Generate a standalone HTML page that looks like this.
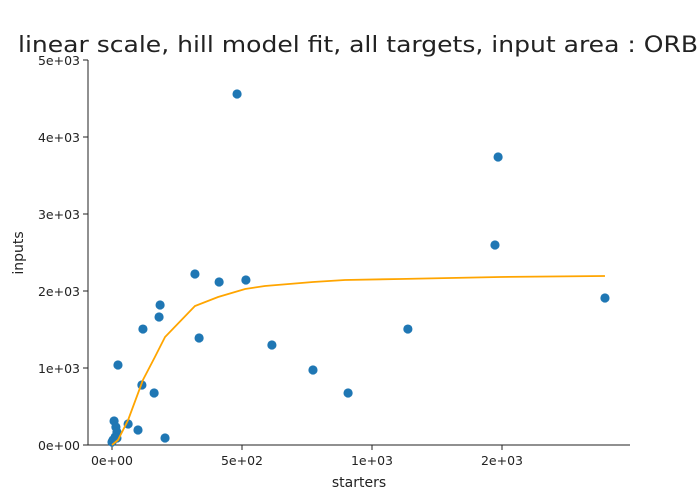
<!DOCTYPE html>
<html><head><meta charset="utf-8"><style>
body{margin:0;background:#fff;}
svg{display:block;font-family:"DejaVu Sans","Liberation Sans",sans-serif;}
</style></head><body>
<svg id="chart" width="700" height="500" viewBox="0 0 700 500">
<text x="18" y="52" font-size="22" textLength="680" lengthAdjust="spacingAndGlyphs" fill="#222">linear scale, hill model fit, all targets, input area : ORB</text>
<g id="axes"></g>
<g id="marks"></g>
<text x="359" y="487" font-size="14" text-anchor="middle" fill="#222">starters</text>
<text transform="translate(23,253) rotate(-90)" font-size="14" text-anchor="middle" fill="#222">inputs</text>
</svg>
<script>
const scatterX=[481,1485,1473,319,412,515,185,181,119,335,615,23,1138,1896,773,115,162,908,62,100,204,8,15,19,12,4,19,0];
const scatterY=[4558,3740,2597,2221,2117,2143,1818,1662,1506,1390,1299,1039,1506,1909,974,779,675,675,273,195,91,312,234,169,104,65,91,39];
const fitX=[0,23,62,119,165,204,319,408,512,588,773,896,1108,1492,1896];
const fitY=[0,65,325,844,1143,1403,1805,1922,2026,2065,2117,2143,2156,2182,2195];
const xTicks=[0,500,1000,1500];
const xTickLabels=["0e+00","5e+02","1e+03","2e+03"];
const yTicks=[0,1000,2000,3000,4000,5000];
const yTickLabels=["0e+00","1e+03","2e+03","3e+03","4e+03","5e+03"];

const L=88,R=630,T=60,B=445,xmin=-92.3,xmax=1992.3,ymin=0,ymax=5000;
const sx=v=>L+(v-xmin)/(xmax-xmin)*(R-L);
const sy=v=>B-(v-ymin)/(ymax-ymin)*(B-T);
const NS="http://www.w3.org/2000/svg";
function mk(tag,attrs,parent){const e=document.createElementNS(NS,tag);for(const k in attrs)e.setAttribute(k,attrs[k]);parent.appendChild(e);return e;}
const axes=document.getElementById('axes'),marks=document.getElementById('marks');

let a=mk('line',{x1:L,y1:T,x2:L,y2:B,stroke:'#222','stroke-width':1},axes);


a=mk('line',{x1:L,y1:B,x2:R,y2:B,stroke:'#222','stroke-width':1},axes);



xTicks.forEach((v,i)=>{
  const t=mk('line',{x1:sx(v),y1:B,x2:sx(v),y2:B+5,stroke:'#222'},axes);
  
  
  const l=mk('text',{x:sx(v),y:B+20,'font-size':12.5,'text-anchor':'middle',fill:'#222'},axes);
  l.textContent=xTickLabels[i];
  
  
});
yTicks.forEach((v,i)=>{
  const t=mk('line',{x1:L-5,y1:sy(v),x2:L,y2:sy(v),stroke:'#222'},axes);
  
  
  const l=mk('text',{x:L-8,y:sy(v)+5,'font-size':12.5,'text-anchor':'end',fill:'#222'},axes);
  l.textContent=yTickLabels[i];
  
  
});

scatterX.forEach((v,i)=>{
  const c=mk('circle',{cx:sx(v),cy:sy(scatterY[i]),r:4.6,fill:'#1f77b4'},marks);
  
  
});
const p=mk('polyline',{points:fitX.map((v,i)=>sx(v)+','+sy(fitY[i])).join(' '),fill:'none',stroke:'#FFA500','stroke-width':1.8},marks);


</script>
</body></html>
